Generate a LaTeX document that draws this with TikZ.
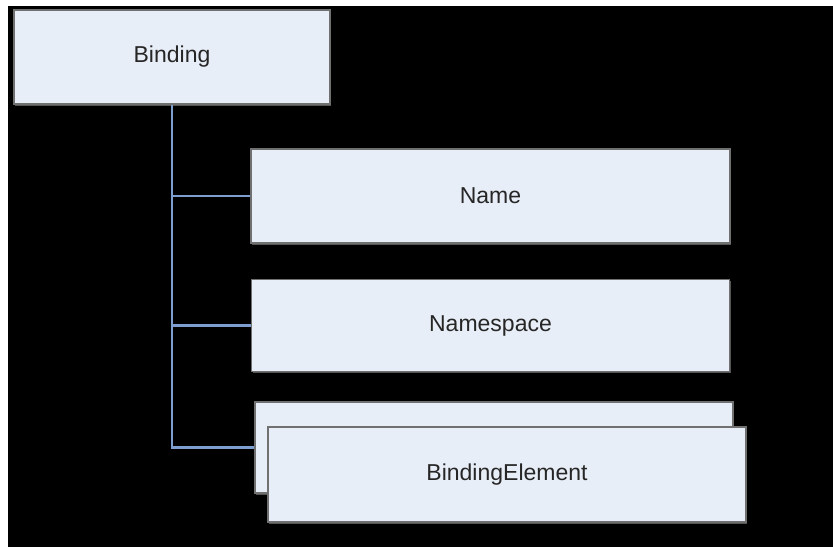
\documentclass[tikz,border=0pt]{standalone}
\usepackage{fontspec}
\setmainfont{Liberation Sans}
\usetikzlibrary{shadows}
\definecolor{boxfill}{HTML}{E8EEF7}
\definecolor{boxline}{HTML}{707070}
\definecolor{boxshade}{HTML}{555555}
\definecolor{linkblue}{HTML}{7F9ED0}
\tikzset{
  item/.style={draw=boxline, line width=1.3pt, fill=boxfill, text=black!85,
    font=\fontsize{23}{26}\selectfont, inner sep=0pt,
    general shadow={fill=boxshade, shadow xshift=1.2pt, shadow yshift=-1.6pt}},
  link/.style={draw=linkblue, line width=2.2pt}
}
\begin{document}
\begin{tikzpicture}[x=1pt, y=-1pt]
  % page and dark backdrop
  \fill[white] (0,0) rectangle (833,547);
  \fill[black] (8,6) rectangle (833,547);
  \useasboundingbox (0,0) rectangle (833,547);

  \node[item, minimum width=316pt, minimum height=94pt] (binding) at (172,57) {Binding};
  \node[item, minimum width=479pt, minimum height=94pt] (name) at (490.5,196) {Name};
  \node[item, minimum width=478pt, minimum height=92pt] (ns) at (490.5,325.5) {Namespace};
  \node[item, minimum width=478pt, minimum height=91pt] (elemback) at (494,447.5) {};
  \node[item, minimum width=478pt, minimum height=95pt] (elem) at (507,474.5) {BindingElement};

  % tree connectors
  \draw[link] (binding.south) |- (elemback.west);
  \draw[link] (binding.south |- name.west) -- (name.west);
  \draw[link] (binding.south |- ns.west) -- (ns.west);
\end{tikzpicture}
\end{document}
